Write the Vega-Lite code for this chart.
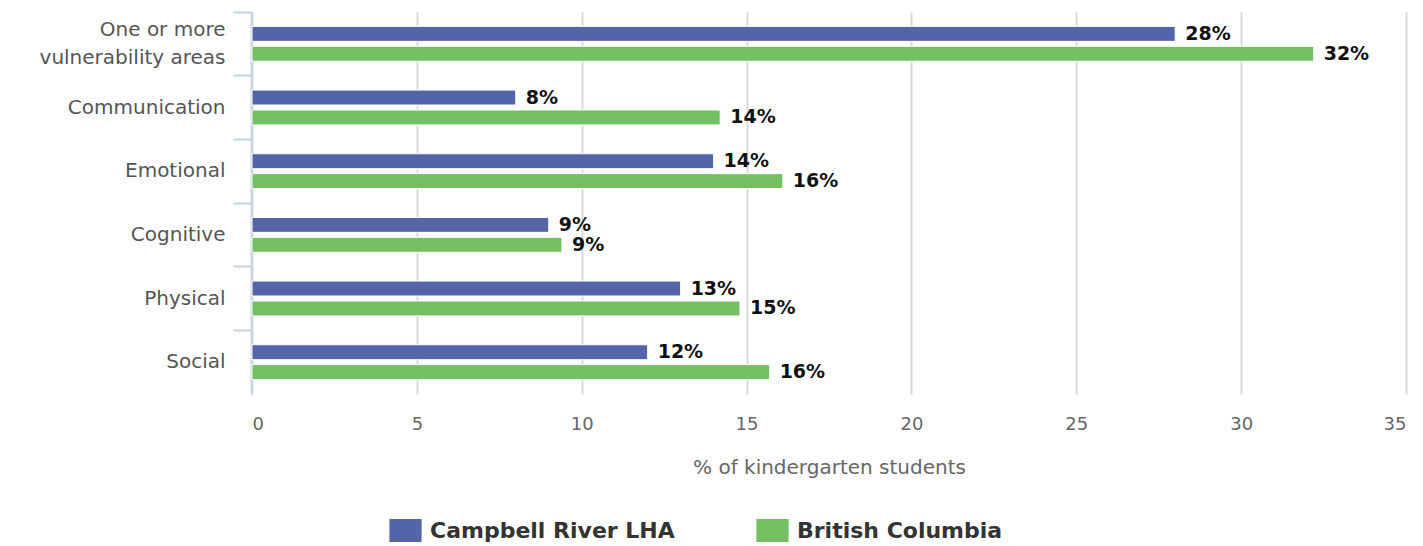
{
  "$schema": "https://vega.github.io/schema/vega-lite/v6.json",
  "width": 1154,
  "height": 382,
  "autosize": {"type": "none"},
  "padding": {"left": 252, "top": 12, "right": 17, "bottom": 152},
  "config": {
    "font": "DejaVu Sans",
    "view": {"stroke": null}
  },
  "data": {
    "values": [
      {"area": "One or more vulnerability areas", "region": "Campbell River LHA", "value": 28.0, "label": "28%"},
      {"area": "One or more vulnerability areas", "region": "British Columbia", "value": 32.2, "label": "32%"},
      {"area": "Communication", "region": "Campbell River LHA", "value": 8.0, "label": "8%"},
      {"area": "Communication", "region": "British Columbia", "value": 14.2, "label": "14%"},
      {"area": "Emotional", "region": "Campbell River LHA", "value": 14.0, "label": "14%"},
      {"area": "Emotional", "region": "British Columbia", "value": 16.1, "label": "16%"},
      {"area": "Cognitive", "region": "Campbell River LHA", "value": 9.0, "label": "9%"},
      {"area": "Cognitive", "region": "British Columbia", "value": 9.4, "label": "9%"},
      {"area": "Physical", "region": "Campbell River LHA", "value": 13.0, "label": "13%"},
      {"area": "Physical", "region": "British Columbia", "value": 14.8, "label": "15%"},
      {"area": "Social", "region": "Campbell River LHA", "value": 12.0, "label": "12%"},
      {"area": "Social", "region": "British Columbia", "value": 15.7, "label": "16%"}
    ]
  },
  "encoding": {
    "y": {
      "field": "area",
      "type": "nominal",
      "sort": ["One or more vulnerability areas", "Communication", "Emotional", "Cognitive", "Physical", "Social"],
      "scale": {"paddingInner": 0, "paddingOuter": 0},
      "axis": {
        "title": null,
        "bandPosition": 0,
        "domainColor": "#c6d3e3",
        "domainWidth": 2,
        "tickColor": "#c6d3e3",
        "tickWidth": 2,
        "tickSize": 18,
        "offset": 1,
        "labelFontSize": 20,
        "labelColor": "#555555",
        "labelPadding": 8,
        "labelLimit": 260,
        "labelLineHeight": 28,
        "labelOffset": {"condition": {"test": "datum.value == 'One or more vulnerability areas'", "value": -14}, "value": 0},
        "labelExpr": "datum.value == 'One or more vulnerability areas' ? ['One or more', 'vulnerability areas'] : datum.value"
      }
    },
    "yOffset": {
      "field": "region",
      "type": "nominal",
      "sort": ["Campbell River LHA", "British Columbia"],
      "scale": {"paddingInner": 0.25, "paddingOuter": 0.725}
    },
    "x": {
      "field": "value",
      "type": "quantitative",
      "scale": {"domain": [0, 35], "nice": false},
      "axis": {
        "title": "% of kindergarten students",
        "titleFontSize": 20,
        "titleFontWeight": "normal",
        "titleColor": "#666666",
        "titlePadding": 24,
        "values": [0, 5, 10, 15, 20, 25, 30, 35],
        "labelFontSize": 18,
        "labelColor": "#666666",
        "labelPadding": 21,
        "domain": false,
        "ticks": false,
        "gridColor": "#d9d9d9",
        "gridWidth": 2
      }
    }
  },
  "layer": [
    {
      "mark": {"type": "bar", "stroke": "white", "strokeWidth": 1},
      "encoding": {
        "color": {
          "field": "region",
          "type": "nominal",
          "sort": ["Campbell River LHA", "British Columbia"],
          "scale": {"domain": ["Campbell River LHA", "British Columbia"], "range": ["#5464a8", "#72c062"]},
          "legend": {
            "title": null,
            "orient": "none",
            "legendX": 142,
            "legendY": 507,
            "direction": "horizontal",
            "symbolType": "M-1.4,-1H1.4V1H-1.4Z",
            "symbolSize": 529,
            "symbolStrokeWidth": 0,
            "symbolOpacity": 1,
            "labelFontSize": 22,
            "labelFontWeight": "bold",
            "labelColor": "#333333",
            "columnPadding": 81,
            "labelOffset": 13,
            "labelLimit": 400
          }
        }
      }
    },
    {
      "mark": {"type": "text", "align": "left", "baseline": "middle", "dx": 10, "fontSize": 19, "fontWeight": "bold", "color": "#111111"},
      "encoding": {
        "text": {"field": "label"}
      }
    }
  ]
}
